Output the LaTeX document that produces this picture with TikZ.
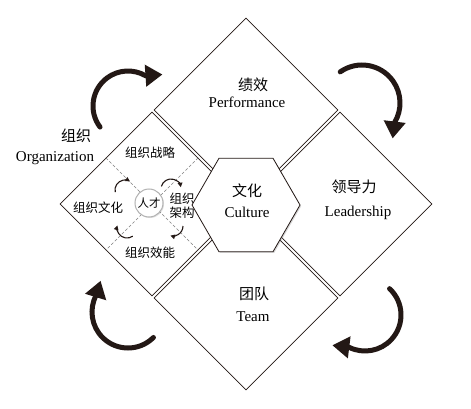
\documentclass[tikz,border=0pt]{standalone}
\usepackage{fontspec}
\setmainfont{Liberation Serif}
\newfontfamily\cjk{Noto Sans CJK SC}
\usetikzlibrary{positioning,arrows.meta,shapes.geometric,calc,shadows}

\definecolor{ink}{HTML}{231815}

\begin{document}
\begin{tikzpicture}[x=1pt, y=-1pt,
    panel/.style={diamond, draw=ink, line width=0.8pt, fill=white, minimum size=184pt, inner sep=0pt},
    bigarrow/.style={draw=ink, line width=5pt, line cap=round, -{Triangle[length=17pt, width=21pt]}},
    smallarrow/.style={draw=ink, line width=1.1pt, -{Triangle[length=4.5pt, width=4.5pt]}},
    divide/.style={draw=gray, line width=0.5pt, dash pattern=on 3pt off 2pt},
    zh/.style={font=\cjk\fontsize{15}{15}\selectfont, inner sep=0pt},
    en/.style={font=\fontsize{15}{15}\selectfont, inner sep=0pt, anchor=base},
    sub/.style={font=\cjk\fontsize{12.5}{14}\selectfont, inner sep=0pt}]
    \useasboundingbox (0,0) rectangle (471,409);

    % four panels
    \node[panel] (perf) at (246,110) {};
    \node[panel] (lead) at (340,204) {};
    \node[panel] (team) at (246,298) {};
    \node[panel] (org) at (152,204) {};

    % inside organization panel
    \draw[divide] ($(org.north)!0.5!(org.west)$) -- ($(org.south)!0.5!(org.east)$);
    \draw[divide] ($(org.north)!0.5!(org.east)$) -- ($(org.south)!0.5!(org.west)$);
    \node[circle, draw=gray!60, line width=1pt, fill=white, minimum size=28pt, inner sep=0pt,
      drop shadow={opacity=0.25, shadow xshift=1pt, shadow yshift=-1pt},
      font=\cjk\fontsize{11.5}{12}\selectfont] (talent) at (149,203) {人才};
    \node[sub] (strat) at (150,153) {组织战略};
    \node[sub] (cult) at (98,208) {组织文化};
    \node[sub, align=center] (arch) at (182,206) {组织\\架构};
    \node[sub] (eff) at (150,253) {组织效能};
    \draw[smallarrow] (125,190) ++(168:10) arc[start angle=168, end angle=300, radius=10];
    \draw[smallarrow] (171,189) ++(195:10) arc[start angle=195, end angle=350, radius=10];
    \draw[smallarrow] (173,226) ++(0:10) arc[start angle=0, end angle=105, radius=10];
    \draw[smallarrow] (127,228) ++(55:10) arc[start angle=55, end angle=195, radius=10];

    % centre
    \node[regular polygon, regular polygon sides=6, draw=ink, line width=0.8pt, fill=white,
      minimum size=108pt, inner sep=0pt,
      drop shadow={opacity=0.3, shadow xshift=1.2pt, shadow yshift=-1.2pt}] (core) at (246,205) {};

    % labels
    \node[zh] (perfzh) at (253,85) {绩效};
    \node[en] (perfen) at (247,108) {Performance};
    \node[zh] (leadzh) at (354,187) {领导力};
    \node[en] (leaden) at (358,216) {Leadership};
    \node[zh] (teamzh) at (254,294) {团队};
    \node[en] (teamen) at (253,321) {Team};
    \node[zh] (corezh) at (247,191) {文化};
    \node[en] (coreen) at (247,217) {Culture};
    \node[zh] (orgzh) at (76,136) {组织};
    \node[en] (orgen) at (55,161) {Organization};

    % cycle
    \draw[bigarrow] (128,106) ++(143:35) arc[start angle=143, end angle=300, radius=35] -- ++(-4:17);
    \draw[bigarrow] (362,103) ++(235:38) arc[start angle=235, end angle=391, radius=38] -- ++(97:16);
    \draw[bigarrow] (365,315) ++(-47:36) arc[start angle=-47, end angle=116, radius=36] -- ++(187:17);
    \draw[bigarrow] (128,312) ++(45:36) arc[start angle=45, end angle=208, radius=36] -- ++(287:15);
  \end{tikzpicture}
\end{document}
